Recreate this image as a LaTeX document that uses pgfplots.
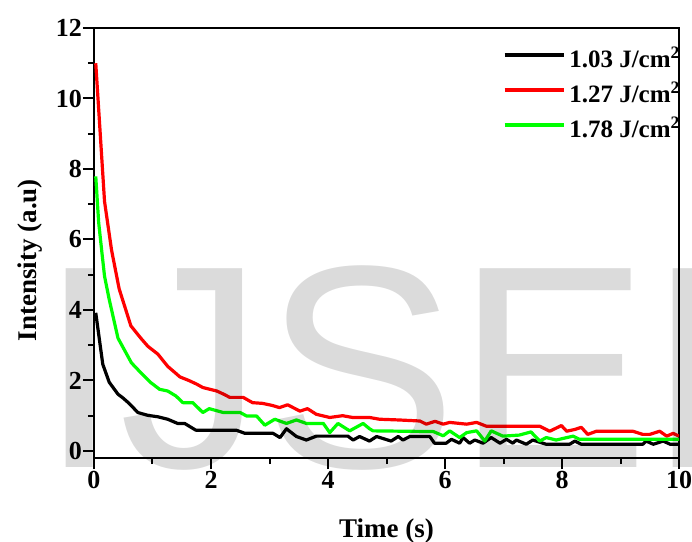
\documentclass[border=0pt]{standalone}
\usepackage{pgfplots}
\pgfplotsset{compat=1.18}
\usepackage{fontspec}
\setmainfont{Liberation Serif}
\newfontfamily\wmfont{Liberation Sans}
\definecolor{pred}{RGB}{255,0,0}
\definecolor{pgreen}{RGB}{0,255,0}
\begin{document}
\begin{tikzpicture}
\useasboundingbox (-94bp,-84bp) rectangle (598bp,458bp);
\begin{axis}[
  at={(0bp,0bp)}, anchor=south west,
  scale only axis, width=585bp, height=430bp,
  xmin=0, xmax=10, ymin=-0.2, ymax=12,
  xtick={0,2,4,6,8,10}, ytick={0,2,4,6,8,10,12},
  minor tick num=1,
  tick align=outside,
  xtick pos=bottom, ytick pos=left,
  major tick length=11bp, minor tick length=6bp,
  axis line style={line width=2bp},
  every tick/.style={line width=2bp, black},
  /pgf/number format/assume math mode=true,
  ticklabel style={font=\fontsize{26bp}{28bp}\selectfont\bfseries},
  xticklabel style={inner sep=2bp},
  yticklabel style={inner sep=1bp},
  xlabel={Time (s)}, ylabel={Intensity (a.u)},
  label style={font=\fontsize{27bp}{30bp}\selectfont\bfseries},
  xlabel style={at={(axis description cs:0.5,-0.184)}, anchor=base, inner sep=0pt},
  ylabel style={at={(axis description cs:-0.11,0.46)}, anchor=center, inner sep=0pt},
  legend style={at={(axis description cs:0.699,0.953)}, anchor=north west,
    draw=none, fill=none, inner sep=0pt, row sep=8bp, column sep=4bp,
    font=\fontsize{25bp}{28bp}\selectfont\bfseries,
    nodes={inner sep=0pt, text height=19bp, text depth=8bp}},
  legend cell align=left,
  legend image code/.code={\draw[#1] (0bp,7bp) -- (59bp,7bp);},
  every axis plot/.append style={line width=3.2bp, line join=round},
]
\addplot[black] coordinates {
(0.03,3.92)(0.15,2.46)(0.26,1.95)(0.41,1.61)(0.49,1.51)(0.6,1.35)(0.75,1.09)(0.92,1.01)(1.09,0.97)(1.26,0.9)(1.43,0.78)(1.55,0.78)(1.74,0.59)(2.43,0.59)(2.58,0.5)(3.06,0.5)(3.18,0.38)(3.29,0.63)(3.46,0.41)(3.63,0.31)(3.80,0.42)(4.34,0.42)(4.43,0.31)(4.54,0.41)(4.71,0.28)(4.83,0.41)(5.08,0.28)(5.20,0.41)(5.28,0.31)(5.40,0.41)(5.74,0.41)(5.82,0.22)(6.02,0.22)(6.11,0.33)(6.25,0.22)(6.31,0.38)(6.42,0.22)(6.51,0.31)(6.65,0.22)(6.79,0.38)(6.94,0.22)(7.05,0.33)(7.16,0.22)(7.22,0.31)(7.39,0.19)(7.5,0.31)(7.73,0.19)(8.13,0.19)(8.22,0.28)(8.33,0.19)(9.38,0.19)(9.44,0.28)(9.56,0.19)(9.73,0.28)(9.85,0.19)(10,0.19)
};
\addlegendentry{1.03 J/cm\textsuperscript{2}}
\addplot[pred] coordinates {
(0.03,11.0)(0.18,7.08)(0.30,5.7)(0.43,4.6)(0.63,3.55)(0.8,3.2)(0.92,2.97)(1.09,2.75)(1.26,2.4)(1.47,2.1)(1.62,2.0)(1.75,1.9)(1.86,1.8)(1.98,1.75)(2.1,1.7)(2.23,1.6)(2.32,1.52)(2.55,1.52)(2.71,1.37)(2.88,1.35)(3.05,1.29)(3.17,1.23)(3.31,1.31)(3.52,1.13)(3.65,1.2)(3.8,1.04)(4.03,0.95)(4.25,1.0)(4.42,0.95)(4.71,0.95)(4.88,0.9)(5.2,0.88)(5.57,0.85)(5.68,0.76)(5.83,0.84)(5.97,0.76)(6.08,0.81)(6.37,0.76)(6.54,0.81)(6.71,0.7)(7.28,0.7)(7.62,0.7)(7.79,0.56)(7.99,0.72)(8.08,0.56)(8.22,0.61)(8.33,0.67)(8.44,0.47)(8.59,0.56)(9.21,0.56)(9.38,0.47)(9.5,0.47)(9.67,0.56)(9.79,0.42)(9.9,0.5)(10,0.42)
};
\addlegendentry{1.27 J/cm\textsuperscript{2}}
\addplot[pgreen] coordinates {
(0.03,7.79)(0.08,6.48)(0.13,5.71)(0.18,4.96)(0.26,4.3)(0.41,3.2)(0.64,2.5)(0.80,2.22)(0.97,1.94)(1.12,1.75)(1.26,1.70)(1.40,1.56)(1.52,1.37)(1.69,1.37)(1.86,1.09)(1.97,1.2)(2.21,1.09)(2.5,1.09)(2.61,0.99)(2.78,0.99)(2.92,0.73)(3.09,0.9)(3.29,0.78)(3.46,0.88)(3.63,0.78)(3.92,0.78)(4.03,0.52)(4.17,0.78)(4.37,0.57)(4.6,0.78)(4.71,0.63)(4.77,0.57)(5.80,0.55)(5.97,0.43)(6.08,0.57)(6.25,0.38)(6.37,0.52)(6.54,0.57)(6.68,0.28)(6.79,0.57)(6.99,0.42)(7.27,0.45)(7.47,0.54)(7.62,0.28)(7.73,0.38)(7.9,0.31)(8.19,0.42)(8.3,0.33)(10,0.33)
};
\addlegendentry{1.78 J/cm\textsuperscript{2}}
\end{axis}
\node[anchor=base west, inner sep=0pt, text=black, text opacity=0.14, font=\wmfont\fontsize{289bp}{289bp}\selectfont] at (-55bp,-9bp) {IJSER};
\end{tikzpicture}
\end{document}
